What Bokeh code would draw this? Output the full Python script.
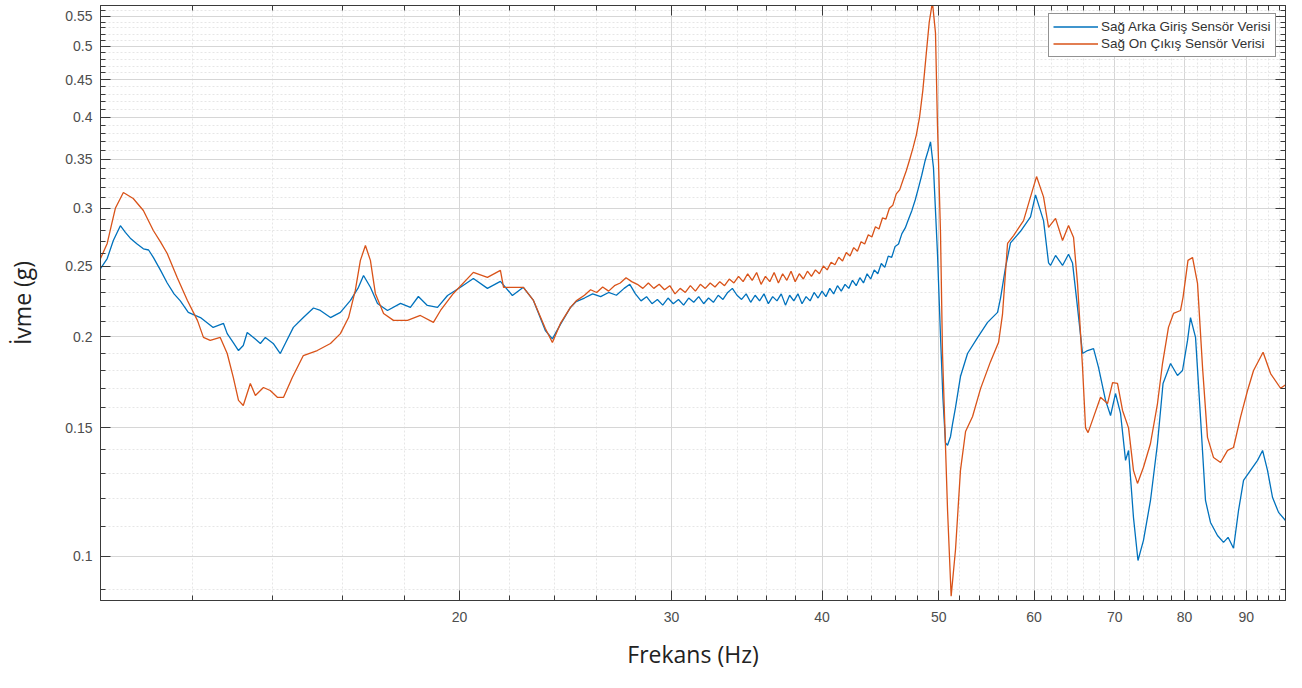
from bokeh.plotting import figure
from bokeh.models import (LogAxis, FixedTicker, NumeralTickFormatter, Range1d,
                          CustomLabelingPolicy)
from bokeh.embed import file_html
from bokeh.resources import INLINE

# ---------------- data (frequency Hz, acceleration g) ----------------
blue_low = [(10.07, 0.248), (10.20, 0.256), (10.32, 0.271), (10.46, 0.284), (10.56, 0.278),
            (10.66, 0.273), (10.80, 0.268), (10.93, 0.264), (11.04, 0.263), (11.14, 0.257),
            (11.29, 0.247), (11.44, 0.237), (11.59, 0.229), (11.73, 0.224), (11.91, 0.216),
            (12.19, 0.2125), (12.49, 0.206), (12.74, 0.2086), (12.83, 0.202), (12.98, 0.1964),
            (13.11, 0.1915), (13.23, 0.1946), (13.33, 0.2027), (13.49, 0.1996), (13.67, 0.1958),
            (13.80, 0.1996), (14.01, 0.1958), (14.20, 0.1897), (14.35, 0.1964), (14.56, 0.206),
            (14.84, 0.2125), (15.13, 0.219), (15.33, 0.2173), (15.63, 0.2125), (15.93, 0.216),
            (16.24, 0.2243), (16.49, 0.2338), (16.65, 0.2427), (16.87, 0.2338), (17.10, 0.2222),
            (17.43, 0.2173), (17.87, 0.2222), (18.21, 0.2194), (18.49, 0.2271), (18.81, 0.2208),
            (19.18, 0.2194), (19.55, 0.2278), (20.04, 0.2338), (20.54, 0.2404), (21.10, 0.2330),
            (21.63, 0.2382), (22.13, 0.2278), (22.60, 0.2338), (23.04, 0.2243), (23.57, 0.2040),
            (23.89, 0.1987), (24.26, 0.2080), (24.73, 0.2194), (25.0, 0.2235)]
blue_mid = [(25.4, 0.226), (25.8, 0.229), (26.2, 0.227), (26.6, 0.230), (27.0, 0.228),
            (27.4, 0.233), (27.7, 0.236), (28.0, 0.229), (28.3, 0.224), (28.6, 0.227),
            (28.9, 0.222), (29.2, 0.225), (29.5, 0.221), (29.8, 0.226), (30.1, 0.222),
            (30.4, 0.225), (30.7, 0.221), (31.0, 0.226), (31.3, 0.223), (31.6, 0.227),
            (31.9, 0.222), (32.2, 0.226), (32.5, 0.223), (32.8, 0.228), (33.1, 0.225),
            (33.4, 0.230), (33.7, 0.233), (34.0, 0.228), (34.3, 0.225), (34.6, 0.229),
            (34.9, 0.223), (35.2, 0.228), (35.5, 0.224), (35.8, 0.229), (36.1, 0.222),
            (36.4, 0.227), (36.7, 0.224), (37.0, 0.229), (37.3, 0.221), (37.6, 0.228),
            (37.9, 0.224), (38.2, 0.229), (38.5, 0.222), (38.8, 0.227), (39.1, 0.224),
            (39.4, 0.230), (39.7, 0.226), (40.0, 0.231), (40.3, 0.227), (40.6, 0.233),
            (40.9, 0.229), (41.2, 0.235), (41.5, 0.231), (41.8, 0.236), (42.1, 0.233),
            (42.4, 0.239), (42.7, 0.235), (43.0, 0.241), (43.3, 0.237), (43.6, 0.244),
            (43.9, 0.240), (44.2, 0.247), (44.5, 0.244), (44.8, 0.252), (45.1, 0.249),
            (45.4, 0.258), (45.7, 0.257), (46.0, 0.266), (46.3, 0.268), (46.6, 0.277),
            (46.9, 0.282), (47.2, 0.290), (47.5, 0.298), (47.8, 0.308), (48.1, 0.320),
            (48.4, 0.333), (48.7, 0.348), (49.0, 0.360), (49.22, 0.370)]
blue_high = [(49.50, 0.341), (49.88, 0.26), (50.17, 0.200), (50.40, 0.165), (50.65, 0.143),
             (50.85, 0.142), (51.14, 0.146), (51.33, 0.1517), (51.63, 0.160), (52.12, 0.1764),
             (52.83, 0.1897), (53.85, 0.1994), (54.89, 0.2093), (55.95, 0.216), (56.27, 0.226),
             (56.81, 0.249), (57.35, 0.269), (58.46, 0.279), (59.59, 0.292), (60.16, 0.313),
             (61.09, 0.2886), (61.68, 0.2525), (61.91, 0.2505), (62.51, 0.2585), (63.35, 0.2505),
             (64.08, 0.2595), (64.57, 0.2525), (65.19, 0.2194), (65.82, 0.1897), (66.45, 0.1915),
             (67.22, 0.1927), (67.86, 0.1816), (68.78, 0.1636), (69.44, 0.156), (70.10, 0.1672),
             (70.78, 0.157), (71.46, 0.1354), (71.87, 0.1397), (72.55, 0.1131), (73.18, 0.0987),
             (73.95, 0.1052), (74.95, 0.1193), (75.96, 0.1428), (76.77, 0.1726), (77.88, 0.1838),
             (78.92, 0.177), (79.68, 0.1798), (80.45, 0.1977), (80.91, 0.2125), (81.69, 0.1996),
             (82.47, 0.155), (83.26, 0.1193), (84.06, 0.1113), (85.19, 0.1068), (86.18, 0.1045),
             (86.93, 0.1062), (87.84, 0.1026), (88.69, 0.1156), (89.54, 0.1271), (90.74, 0.1312),
             (91.97, 0.1354), (92.86, 0.1397), (93.74, 0.1312), (94.65, 0.1204), (95.74, 0.1149),
             (97.02, 0.112), (97.96, 0.1092)]

orange_low = [(10.07, 0.256), (10.20, 0.2685), (10.28, 0.284), (10.36, 0.300), (10.52, 0.3153),
              (10.72, 0.3094), (10.93, 0.2979), (11.14, 0.2797), (11.29, 0.270), (11.44, 0.2601),
              (11.66, 0.2412), (11.89, 0.2243), (12.12, 0.2106), (12.26, 0.1996), (12.42, 0.1977),
              (12.66, 0.1996), (12.83, 0.1897), (12.98, 0.1759), (13.11, 0.1636), (13.23, 0.1610),
              (13.41, 0.1726), (13.54, 0.1662), (13.75, 0.1704), (13.93, 0.1688), (14.12, 0.1652),
              (14.29, 0.1652), (14.53, 0.1759), (14.84, 0.1885), (15.24, 0.1915), (15.63, 0.1958),
              (15.93, 0.202), (16.18, 0.2125), (16.39, 0.2315), (16.55, 0.2545), (16.71, 0.2668),
              (16.87, 0.2545), (17.03, 0.2293), (17.30, 0.2153), (17.63, 0.2106), (18.11, 0.2106),
              (18.56, 0.2139), (19.03, 0.2093), (19.29, 0.2173), (19.77, 0.2293), (20.54, 0.2451),
              (21.10, 0.2412), (21.63, 0.2466), (21.76, 0.2338), (22.60, 0.2338), (23.04, 0.2243),
              (23.57, 0.2053), (23.89, 0.1964), (24.26, 0.2086), (24.73, 0.2194), (25.0, 0.224)]
orange_mid = [(25.4, 0.228), (25.7, 0.232), (26.0, 0.230), (26.3, 0.234), (26.6, 0.231),
              (26.9, 0.235), (27.2, 0.237), (27.5, 0.241), (27.8, 0.238), (28.1, 0.236),
              (28.4, 0.233), (28.7, 0.237), (29.0, 0.233), (29.3, 0.236), (29.6, 0.232),
              (29.9, 0.235), (30.2, 0.229), (30.5, 0.233), (30.8, 0.230), (31.1, 0.235),
              (31.4, 0.231), (31.7, 0.236), (32.0, 0.233), (32.3, 0.237), (32.6, 0.234),
              (32.9, 0.238), (33.2, 0.235), (33.5, 0.240), (33.8, 0.237), (34.1, 0.242),
              (34.4, 0.238), (34.7, 0.244), (35.0, 0.239), (35.3, 0.245), (35.6, 0.236),
              (35.9, 0.242), (36.2, 0.238), (36.5, 0.245), (36.8, 0.237), (37.1, 0.244),
              (37.4, 0.239), (37.7, 0.246), (38.0, 0.238), (38.3, 0.244), (38.6, 0.240),
              (38.9, 0.246), (39.2, 0.242), (39.5, 0.247), (39.8, 0.244), (40.1, 0.250),
              (40.4, 0.247), (40.7, 0.253), (41.0, 0.251), (41.3, 0.257), (41.6, 0.254),
              (41.9, 0.261), (42.2, 0.258), (42.5, 0.265), (42.8, 0.262), (43.1, 0.270),
              (43.4, 0.268), (43.7, 0.276), (44.0, 0.274), (44.3, 0.283), (44.6, 0.281),
              (44.9, 0.291), (45.2, 0.290), (45.5, 0.300), (45.8, 0.303), (46.1, 0.314),
              (46.4, 0.318), (46.7, 0.328), (47.0, 0.338), (47.3, 0.350), (47.6, 0.363),
              (47.9, 0.378), (48.2, 0.400), (48.5, 0.435), (48.8, 0.485), (49.1, 0.540),
              (49.4, 0.575)]
orange_high = [(49.69, 0.522), (49.88, 0.39), (50.17, 0.277), (50.36, 0.19), (50.85, 0.1156),
               (51.20, 0.0882), (51.63, 0.1022), (52.12, 0.1312), (52.63, 0.1483), (53.34, 0.1555),
               (54.16, 0.1698), (55.20, 0.1849), (56.06, 0.1965), (56.48, 0.2146), (57.03, 0.2685),
               (57.69, 0.2753), (58.80, 0.2886), (59.59, 0.3110), (60.28, 0.3316), (61.09, 0.3110),
               (61.68, 0.2825), (62.51, 0.2906), (63.35, 0.271), (64.08, 0.2841), (64.70, 0.2736),
               (65.19, 0.2367), (65.82, 0.1816), (66.20, 0.150), (66.52, 0.1478), (67.22, 0.1552),
               (68.12, 0.1652), (69.04, 0.1620), (69.71, 0.1731), (70.37, 0.1726), (71.05, 0.1585),
               (71.87, 0.150), (72.55, 0.1312), (73.11, 0.1259), (73.95, 0.1325), (74.95, 0.1428),
               (75.96, 0.1620), (76.69, 0.1838), (77.57, 0.2060), (78.32, 0.2153), (79.38, 0.2173),
               (79.76, 0.2265), (80.52, 0.2545), (81.22, 0.2569), (82.00, 0.2367), (82.79, 0.1816),
               (83.58, 0.1456), (84.55, 0.1366), (85.69, 0.1345), (86.85, 0.1397), (87.84, 0.1410),
               (89.03, 0.1552), (90.23, 0.1688), (91.27, 0.1798), (92.95, 0.1905), (94.29, 0.1781),
               (96.11, 0.170), (97.40, 0.1726), (97.96, 0.173)]

series_names = ["Sağ Arka Giriş Sensör Verisi", "Sağ On Çıkış Sensör Verisi"]
x_title = "Frekans (Hz)"
y_title = "İvme (g)"
x_major = [20, 30, 40, 50, 60, 70, 80, 90]
x_minor = [12, 14, 16, 18, 22, 24, 26, 28, 32, 34, 36, 38, 42, 44, 46, 48, 52, 54, 56, 58,
           62, 64, 66, 68, 72, 74, 76, 78, 82, 84, 86, 88, 92, 94, 96]
y_major = [0.1, 0.15, 0.2, 0.25, 0.3, 0.35, 0.4, 0.45, 0.5, 0.55]
y_minor = [i / 100 for i in range(9, 57) if i % 5 != 0]

blue = blue_low + blue_mid + blue_high
orange = orange_low + orange_mid + orange_high
bx = [a for a, b in blue]; by = [b for a, b in blue]
ox = [a for a, b in orange]; oy = [b for a, b in orange]

# ---------------- figure ----------------
p = figure(width=1286, height=672, x_axis_type="log", y_axis_type="log",
           x_range=Range1d(10.07, 97.02), y_range=Range1d(0.087, 0.569),
           output_backend="svg", toolbar_location=None,
           min_border_left=100, min_border_right=1, min_border_top=5, min_border_bottom=72)
p.background_fill_color = "white"
p.border_fill_color = "white"
p.outline_line_color = "#3a3a3a"
p.outline_line_width = 1

xt = FixedTicker(ticks=x_major, minor_ticks=x_minor)
yt = FixedTicker(ticks=y_major, minor_ticks=y_minor)

axis_col = "#3a3a3a"
lab_col = "#4d4d4d"

xa = p.xaxis[0]
xa.ticker = xt
xa.formatter = NumeralTickFormatter(format="0")
ya = p.yaxis[0]
ya.ticker = yt
ya.formatter = NumeralTickFormatter(format="0.[00]")

for ax in (xa, ya):
    ax.major_tick_in = 10
    ax.major_tick_out = 0
    ax.minor_tick_in = 5
    ax.minor_tick_out = 0
    ax.axis_line_color = axis_col
    ax.major_tick_line_color = axis_col
    ax.minor_tick_line_color = axis_col
    ax.major_label_text_font = "Liberation Sans"
    ax.major_label_text_font_size = "14px"
    ax.major_label_text_color = lab_col
    ax.axis_label_text_font = "Open Sans"
    ax.axis_label_text_font_size = "23px"
    ax.axis_label_text_font_style = "normal"
    ax.axis_label_text_color = "#222222"

xa.axis_label = x_title
xa.major_label_standoff = 11
xa.axis_label_standoff = 13
ya.axis_label = y_title
ya.major_label_standoff = 8
ya.axis_label_standoff = 24

# mirrored tick axes (box), their labels are not drawn
no_labels = CustomLabelingPolicy(code="for (const i of Array.from(indices)) { indices.unset(i) }; return indices")
mirror = dict(major_label_policy=no_labels, major_label_standoff=0, major_label_text_font_size="0px",
              major_tick_in=10, major_tick_out=0, minor_tick_in=5, minor_tick_out=0,
              axis_line_color=axis_col, major_tick_line_color=axis_col, minor_tick_line_color=axis_col)
p.add_layout(LogAxis(ticker=xt, **mirror), "above")
p.add_layout(LogAxis(ticker=yt, **mirror), "right")

for g in (p.xgrid[0], p.ygrid[0]):
    g.grid_line_color = "#d6d6d6"
    g.grid_line_width = 1
    g.minor_grid_line_color = "#e6e6e6"
    g.minor_grid_line_dash = "2 2"
    g.minor_grid_line_width = 1

p.line(bx, by, line_color="#0072BD", line_width=1.3, legend_label=series_names[0])
p.line(ox, oy, line_color="#D95319", line_width=1.3, legend_label=series_names[1])

lg = p.legend[0]
lg.location = (948, 543)
lg.margin = 0
lg.padding = 4
lg.spacing = 0
lg.label_height = 17
lg.glyph_height = 17
lg.glyph_width = 45
lg.label_standoff = 3
lg.label_text_font = "Liberation Sans"
lg.label_text_font_size = "13.5px"
lg.label_text_color = "#333333"
lg.border_line_color = "#262626"
lg.border_line_width = 1
lg.background_fill_alpha = 1

open("out.html", "w").write(file_html(p, INLINE))
